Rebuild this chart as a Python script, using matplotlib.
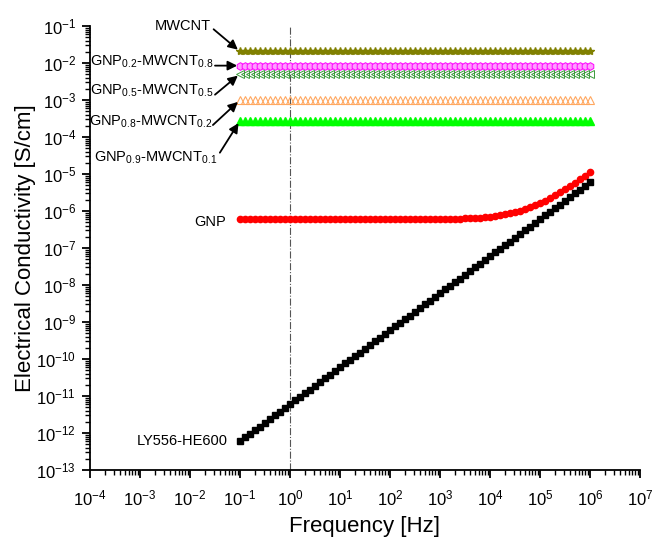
import matplotlib
matplotlib.use('Agg')
import matplotlib.pyplot as plt
from matplotlib.ticker import LogLocator, NullFormatter

plt.rcParams['font.family'] = ['Liberation Sans', 'DejaVu Sans']
plt.rcParams['mathtext.default'] = 'regular'

# Measurement frequencies, 10 points per decade
freq_hz = [
  0.1, 0.126, 0.158, 0.2, 0.251, 0.316, 0.398, 0.501, 0.631, 0.794,
  1.0, 1.26, 1.58, 2.0, 2.51, 3.16, 3.98, 5.01, 6.31, 7.94,
  10, 12.6, 15.8, 20.0, 25.1, 31.6, 39.8, 50.1, 63.1, 79.4,
  100, 126, 158, 200, 251, 316, 398, 501, 631, 794,
  1e3, 1.26e3, 1.58e3, 2.0e3, 2.51e3, 3.16e3, 3.98e3, 5.01e3, 6.31e3, 7.94e3,
  1e4, 1.26e4, 1.58e4, 2.0e4, 2.51e4, 3.16e4, 3.98e4, 5.01e4, 6.31e4, 7.94e4,
  1e5, 1.26e5, 1.58e5, 2.0e5, 2.51e5, 3.16e5, 3.98e5, 5.01e5, 6.31e5, 7.94e5,
  1e6,
]

# Conductivity [S/cm]
mwcnt = [
  2.05e-2, 2.05e-2, 2.05e-2, 2.05e-2, 2.05e-2, 2.05e-2, 2.05e-2, 2.05e-2, 2.05e-2, 2.05e-2,
  2.05e-2, 2.05e-2, 2.05e-2, 2.05e-2, 2.05e-2, 2.05e-2, 2.05e-2, 2.05e-2, 2.05e-2, 2.05e-2,
  2.05e-2, 2.05e-2, 2.05e-2, 2.05e-2, 2.05e-2, 2.05e-2, 2.05e-2, 2.05e-2, 2.05e-2, 2.05e-2,
  2.05e-2, 2.05e-2, 2.05e-2, 2.05e-2, 2.05e-2, 2.05e-2, 2.05e-2, 2.05e-2, 2.05e-2, 2.05e-2,
  2.05e-2, 2.05e-2, 2.05e-2, 2.05e-2, 2.05e-2, 2.05e-2, 2.05e-2, 2.05e-2, 2.05e-2, 2.05e-2,
  2.05e-2, 2.05e-2, 2.05e-2, 2.05e-2, 2.05e-2, 2.05e-2, 2.05e-2, 2.05e-2, 2.05e-2, 2.05e-2,
  2.05e-2, 2.05e-2, 2.05e-2, 2.05e-2, 2.05e-2, 2.05e-2, 2.05e-2, 2.05e-2, 2.05e-2, 2.05e-2,
  2.05e-2,
]
gnp02_mwcnt08 = [
  8.5e-3, 8.5e-3, 8.5e-3, 8.5e-3, 8.5e-3, 8.5e-3, 8.5e-3, 8.5e-3, 8.5e-3, 8.5e-3,
  8.5e-3, 8.5e-3, 8.5e-3, 8.5e-3, 8.5e-3, 8.5e-3, 8.5e-3, 8.5e-3, 8.5e-3, 8.5e-3,
  8.5e-3, 8.5e-3, 8.5e-3, 8.5e-3, 8.5e-3, 8.5e-3, 8.5e-3, 8.5e-3, 8.5e-3, 8.5e-3,
  8.5e-3, 8.5e-3, 8.5e-3, 8.5e-3, 8.5e-3, 8.5e-3, 8.5e-3, 8.5e-3, 8.5e-3, 8.5e-3,
  8.5e-3, 8.5e-3, 8.5e-3, 8.5e-3, 8.5e-3, 8.5e-3, 8.5e-3, 8.5e-3, 8.5e-3, 8.5e-3,
  8.5e-3, 8.5e-3, 8.5e-3, 8.5e-3, 8.5e-3, 8.5e-3, 8.5e-3, 8.5e-3, 8.5e-3, 8.5e-3,
  8.5e-3, 8.5e-3, 8.5e-3, 8.5e-3, 8.5e-3, 8.5e-3, 8.5e-3, 8.5e-3, 8.5e-3, 8.5e-3,
  8.5e-3,
]
gnp05_mwcnt05 = [
  5.1e-3, 5.1e-3, 5.1e-3, 5.1e-3, 5.1e-3, 5.1e-3, 5.1e-3, 5.1e-3, 5.1e-3, 5.1e-3,
  5.1e-3, 5.1e-3, 5.1e-3, 5.1e-3, 5.1e-3, 5.1e-3, 5.1e-3, 5.1e-3, 5.1e-3, 5.1e-3,
  5.1e-3, 5.1e-3, 5.1e-3, 5.1e-3, 5.1e-3, 5.1e-3, 5.1e-3, 5.1e-3, 5.1e-3, 5.1e-3,
  5.1e-3, 5.1e-3, 5.1e-3, 5.1e-3, 5.1e-3, 5.1e-3, 5.1e-3, 5.1e-3, 5.1e-3, 5.1e-3,
  5.1e-3, 5.1e-3, 5.1e-3, 5.1e-3, 5.1e-3, 5.1e-3, 5.1e-3, 5.1e-3, 5.1e-3, 5.1e-3,
  5.1e-3, 5.1e-3, 5.1e-3, 5.1e-3, 5.1e-3, 5.1e-3, 5.1e-3, 5.1e-3, 5.1e-3, 5.1e-3,
  5.1e-3, 5.1e-3, 5.1e-3, 5.1e-3, 5.1e-3, 5.1e-3, 5.1e-3, 5.1e-3, 5.1e-3, 5.1e-3,
  5.1e-3,
]
gnp08_mwcnt02 = [
  1.0e-3, 1.0e-3, 1.0e-3, 1.0e-3, 1.0e-3, 1.0e-3, 1.0e-3, 1.0e-3, 1.0e-3, 1.0e-3,
  1.0e-3, 1.0e-3, 1.0e-3, 1.0e-3, 1.0e-3, 1.0e-3, 1.0e-3, 1.0e-3, 1.0e-3, 1.0e-3,
  1.0e-3, 1.0e-3, 1.0e-3, 1.0e-3, 1.0e-3, 1.0e-3, 1.0e-3, 1.0e-3, 1.0e-3, 1.0e-3,
  1.0e-3, 1.0e-3, 1.0e-3, 1.0e-3, 1.0e-3, 1.0e-3, 1.0e-3, 1.0e-3, 1.0e-3, 1.0e-3,
  1.0e-3, 1.0e-3, 1.0e-3, 1.0e-3, 1.0e-3, 1.0e-3, 1.0e-3, 1.0e-3, 1.0e-3, 1.0e-3,
  1.0e-3, 1.0e-3, 1.0e-3, 1.0e-3, 1.0e-3, 1.0e-3, 1.0e-3, 1.0e-3, 1.0e-3, 1.0e-3,
  1.0e-3, 1.0e-3, 1.0e-3, 1.0e-3, 1.0e-3, 1.0e-3, 1.0e-3, 1.0e-3, 1.0e-3, 1.0e-3,
  1.0e-3,
]
gnp09_mwcnt01 = [
  2.75e-4, 2.75e-4, 2.75e-4, 2.75e-4, 2.75e-4, 2.75e-4, 2.75e-4, 2.75e-4, 2.75e-4, 2.75e-4,
  2.75e-4, 2.75e-4, 2.75e-4, 2.75e-4, 2.75e-4, 2.75e-4, 2.75e-4, 2.75e-4, 2.75e-4, 2.75e-4,
  2.75e-4, 2.75e-4, 2.75e-4, 2.75e-4, 2.75e-4, 2.75e-4, 2.75e-4, 2.75e-4, 2.75e-4, 2.75e-4,
  2.75e-4, 2.75e-4, 2.75e-4, 2.75e-4, 2.75e-4, 2.75e-4, 2.75e-4, 2.75e-4, 2.75e-4, 2.75e-4,
  2.75e-4, 2.75e-4, 2.75e-4, 2.75e-4, 2.75e-4, 2.75e-4, 2.75e-4, 2.75e-4, 2.75e-4, 2.75e-4,
  2.75e-4, 2.75e-4, 2.75e-4, 2.75e-4, 2.75e-4, 2.75e-4, 2.75e-4, 2.75e-4, 2.75e-4, 2.75e-4,
  2.75e-4, 2.75e-4, 2.75e-4, 2.75e-4, 2.75e-4, 2.75e-4, 2.75e-4, 2.75e-4, 2.75e-4, 2.75e-4,
  2.75e-4,
]
gnp = [
  6.0e-7, 6.0e-7, 6.0e-7, 6.0e-7, 6.0e-7, 6.0e-7, 6.0e-7, 6.0e-7, 6.0e-7, 6.0e-7,
  6.0e-7, 6.0e-7, 6.0e-7, 6.0e-7, 6.0e-7, 6.0e-7, 6.0e-7, 6.0e-7, 6.0e-7, 6.0e-7,
  6.0e-7, 6.0e-7, 6.0e-7, 6.0e-7, 6.0e-7, 6.0e-7, 6.0e-7, 6.01e-7, 6.01e-7, 6.01e-7,
  6.01e-7, 6.01e-7, 6.02e-7, 6.02e-7, 6.03e-7, 6.03e-7, 6.04e-7, 6.05e-7, 6.07e-7, 6.08e-7,
  6.10e-7, 6.13e-7, 6.17e-7, 6.21e-7, 6.26e-7, 6.33e-7, 6.42e-7, 6.53e-7, 6.66e-7, 6.83e-7,
  7.05e-7, 7.32e-7, 7.66e-7, 8.09e-7, 8.64e-7, 9.32e-7, 1.02e-6, 1.13e-6, 1.26e-6, 1.43e-6,
  1.65e-6, 1.92e-6, 2.26e-6, 2.69e-6, 3.24e-6, 3.92e-6, 4.78e-6, 5.86e-6, 7.23e-6, 8.94e-6,
  1.11e-5,
]
ly556_he600 = [
  6.0e-13, 7.6e-13, 9.5e-13, 1.2e-12, 1.5e-12, 1.9e-12, 2.4e-12, 3.0e-12, 3.8e-12, 4.8e-12,
  6.0e-12, 7.6e-12, 9.5e-12, 1.2e-11, 1.5e-11, 1.9e-11, 2.4e-11, 3.0e-11, 3.8e-11, 4.8e-11,
  6.0e-11, 7.6e-11, 9.5e-11, 1.2e-10, 1.5e-10, 1.9e-10, 2.4e-10, 3.0e-10, 3.8e-10, 4.8e-10,
  6.0e-10, 7.6e-10, 9.5e-10, 1.2e-9, 1.5e-9, 1.9e-9, 2.4e-9, 3.0e-9, 3.8e-9, 4.8e-9,
  6.0e-9, 7.6e-9, 9.5e-9, 1.2e-8, 1.5e-8, 1.9e-8, 2.4e-8, 3.0e-8, 3.8e-8, 4.8e-8,
  6.0e-8, 7.6e-8, 9.5e-8, 1.2e-7, 1.5e-7, 1.9e-7, 2.4e-7, 3.0e-7, 3.8e-7, 4.8e-7,
  6.0e-7, 7.6e-7, 9.5e-7, 1.2e-6, 1.5e-6, 1.9e-6, 2.4e-6, 3.0e-6, 3.8e-6, 4.8e-6,
  6.0e-6,
]

fig = plt.figure(figsize=(6.54, 5.42), dpi=100)
ax = fig.add_axes([0.1376, 0.1328, 0.8410, 0.8192])

# reference line at 1 Hz
ax.axvline(1.0, color='#555555', lw=0.8, ls='-.', zorder=1)

ax.plot(freq_hz, mwcnt, ls='none', marker='*', ms=6, color='#808000', mec='#808000')
ax.plot(freq_hz, gnp02_mwcnt08, ls='none', marker='h', ms=5.5, mfc='#FF9CFF', mec='#FF00FF', mew=0.7)
ax.plot(freq_hz, gnp05_mwcnt05, ls='none', marker='<', ms=5.5, mfc='none', mec='#3C9A3C', mew=0.7)
ax.plot(freq_hz, gnp08_mwcnt02, ls='none', marker='^', ms=6, mfc='none', mec='#FFA860', mew=0.8)
ax.plot(freq_hz, gnp09_mwcnt01, ls='none', marker='^', ms=6, color='#00FF00', mec='#00FF00')
ax.plot(freq_hz, gnp, ls='none', marker='o', ms=4.5, color='#FF0000', mec='#FF0000')
ax.plot(freq_hz, ly556_he600, ls='none', marker='s', ms=4.3, color='black', mec='black')

ax.set_xscale('log')
ax.set_yscale('log')
ax.set_xlim(1e-4, 1e7)
ax.set_ylim(1e-13, 1e-1)

for axis in (ax.xaxis, ax.yaxis):
  axis.set_major_locator(LogLocator(base=10, numticks=30))
  axis.set_minor_locator(LogLocator(base=10, subs=range(2, 10), numticks=30))
  axis.set_minor_formatter(NullFormatter())

ax.spines['top'].set_visible(False)
ax.spines['right'].set_visible(False)
ax.spines['left'].set_linewidth(1.3)
ax.spines['bottom'].set_linewidth(1.3)
ax.tick_params(which='major', direction='out', length=6, width=1.3, labelsize=12)
ax.tick_params(axis='x', which='major', pad=7)
ax.tick_params(axis='y', which='major', pad=4)
ax.tick_params(which='minor', direction='out', length=3.5, width=1.0)

ax.set_xlabel('Frequency [Hz]', fontsize=16, labelpad=6)
ax.set_ylabel('Electrical Conductivity [S/cm]', fontsize=16, labelpad=0)

# labels with arrows for the composite curves
arrow = dict(arrowstyle='-|>', color='black', lw=1.3, mutation_scale=14, shrinkA=0, shrinkB=2)
callouts = [
  ('MWCNT', mwcnt, (-21, 18), (-19, 16)),
  (r'GNP$_{0.2}$-MWCNT$_{0.8}$', gnp02_mwcnt08, (-19.5, 3), (-18, 0)),
  (r'GNP$_{0.5}$-MWCNT$_{0.5}$', gnp05_mwcnt05, (-19.5, -12), (-18, -15)),
  (r'GNP$_{0.8}$-MWCNT$_{0.2}$', gnp08_mwcnt02, (-20, -16), (-19.5, -18)),
  (r'GNP$_{0.9}$-MWCNT$_{0.1}$', gnp09_mwcnt01, (-16.5, -27), (-14.5, -23)),
]
for text, series, text_off, arrow_off in callouts:
  ax.annotate(text, xy=(freq_hz[0], series[0]), xytext=text_off, textcoords='offset points',
              ha='right', va='center', fontsize=10.5)
  ax.annotate('', xy=(freq_hz[0], series[0]), xytext=arrow_off, textcoords='offset points',
              arrowprops=arrow)

ax.annotate('GNP', xy=(freq_hz[0], gnp[0]), xytext=(-10, -2), textcoords='offset points',
            ha='right', va='center', fontsize=10.5)
ax.annotate('LY556-HE600', xy=(freq_hz[0], ly556_he600[0]), xytext=(-9, 0), textcoords='offset points',
            ha='right', va='center', fontsize=10.5)

fig.savefig('out.png', dpi=100)
